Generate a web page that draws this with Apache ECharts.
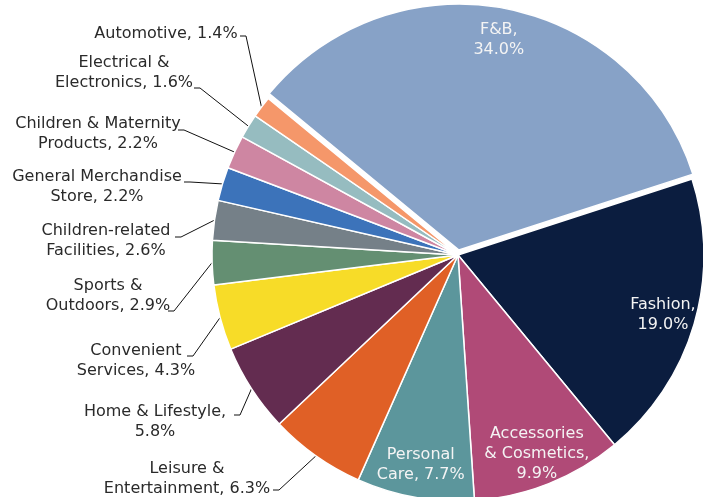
<!DOCTYPE html>
<html>
<head>
<meta charset="utf-8">
<script src="https://cdn.jsdelivr.net/npm/echarts@6/dist/echarts.min.js"></script>
<style>
  html, body { margin: 0; padding: 0; background: #fff; }
  #chart { width: 703px; height: 497px; }
</style>
</head>
<body>
<div id="chart"></div>
<script>
// sector shares (%), clockwise from F&B
const categories = ['F&B', 'Fashion', 'Accessories & Cosmetics', 'Personal Care',
  'Leisure & Entertainment', 'Home & Lifestyle', 'Convenient Services', 'Sports & Outdoors',
  'Children-related Facilities', 'General Merchandise Store', 'Children & Maternity Products',
  'Electrical & Electronics', 'Automotive'];
const shares = [34.0, 19.0, 9.9, 7.7, 6.3, 5.8, 4.3, 2.9, 2.6, 2.2, 2.2, 1.6, 1.4];
// label text, {v} is replaced by the share
const labelTemplates = ['F&B,\n{v}%', 'Fashion,\n{v}%', 'Accessories\n& Cosmetics,\n{v}%',
  'Personal\nCare, {v}%', 'Leisure &\nEntertainment, {v}%', 'Home & Lifestyle,\n{v}%',
  'Convenient\nServices, {v}%', 'Sports &\nOutdoors, {v}%', 'Children-related\nFacilities, {v}%',
  'General Merchandise\nStore, {v}%', 'Children & Maternity\nProducts, {v}%',
  'Electrical &\nElectronics, {v}%', 'Automotive, {v}%'];
const colors = ['#87a2c7', '#0b1d3f', '#b04a77', '#5c969c', '#e06026', '#632c50', '#f7dc28',
  '#648f72', '#758088', '#3c73ba', '#ce86a2', '#96bcc0', '#f5976a'];
const insideCount = 4; // first slices carry their label inside

// placement of the outside labels (pixels): text centre, and the bend of the leader line
const labelCentre = {
  4: [187, 479], 5: [155, 422], 6: [136, 361], 7: [108, 296], 8: [106, 241],
  9: [97, 187], 10: [98, 134], 11: [124, 73], 12: [166, 34]
};
const lineBend = {
  4: [279, 490], 5: [240, 415], 6: [193, 356], 7: [174, 311], 8: [181, 237],
  9: [190, 182], 10: [184, 130], 11: [200, 88], 12: [246, 36]
};

const chart = echarts.init(document.getElementById('chart'));
const font = 'DejaVu Sans';
const fmt = p => labelTemplates[p.dataIndex].replace('{v}', p.value.toFixed(1));

const pieData = categories.map((name, i) => ({
  name,
  value: shares[i],
  selected: i === 0,
  itemStyle: { color: colors[i] },
  label: { show: i >= insideCount },
  labelLine: { show: i >= insideCount }
}));

// transparent ring used only to place the inside labels near the rim
const ringData = categories.map((name, i) => ({
  name,
  value: shares[i],
  selected: i === 0,
  label: i === 0 ? { show: true, offset: [-30, -1] } : { show: i < insideCount }
}));

const center = [458, 255];
const option = {
  animation: false,
  series: [
    {
      type: 'pie',
      center,
      radius: [0, 246],
      startAngle: 140.5,
      clockwise: true,
      selectedMode: 'single',
      selectedOffset: 5,
      avoidLabelOverlap: false,
      itemStyle: { borderColor: '#fff', borderWidth: 1.5 },
      label: {
        position: 'outside',
        formatter: fmt,
        color: '#2a2a2a',
        fontFamily: font,
        fontSize: 16,
        lineHeight: 20,
        align: 'center'
      },
      labelLine: {
        length: 30,
        length2: 6,
        lineStyle: { color: '#111', width: 1 }
      },
      labelLayout: p => {
        const c = labelCentre[p.dataIndex];
        if (!c) return {};
        const bend = lineBend[p.dataIndex];
        const edge = p.labelLinePoints ? p.labelLinePoints[0] : bend;
        return {
          x: c[0],
          y: c[1],
          align: 'center',
          verticalAlign: 'middle',
          labelLinePoints: [edge, bend, [bend[0] - 6, bend[1]]]
        };
      },
      emphasis: { disabled: true },
      data: pieData
    },
    {
      type: 'pie',
      center,
      radius: [170, 251],
      startAngle: 140.5,
      clockwise: true,
      selectedMode: 'single',
      selectedOffset: 5,
      silent: true,
      itemStyle: { color: 'rgba(0,0,0,0)' },
      label: {
        position: 'inside',
        formatter: fmt,
        color: '#f4f4f4',
        fontFamily: font,
        fontSize: 16,
        lineHeight: 20,
        align: 'center'
      },
      labelLine: { show: false },
      emphasis: { disabled: true },
      data: ringData
    }
  ]
};
chart.setOption(option);
</script>
</body>
</html>
